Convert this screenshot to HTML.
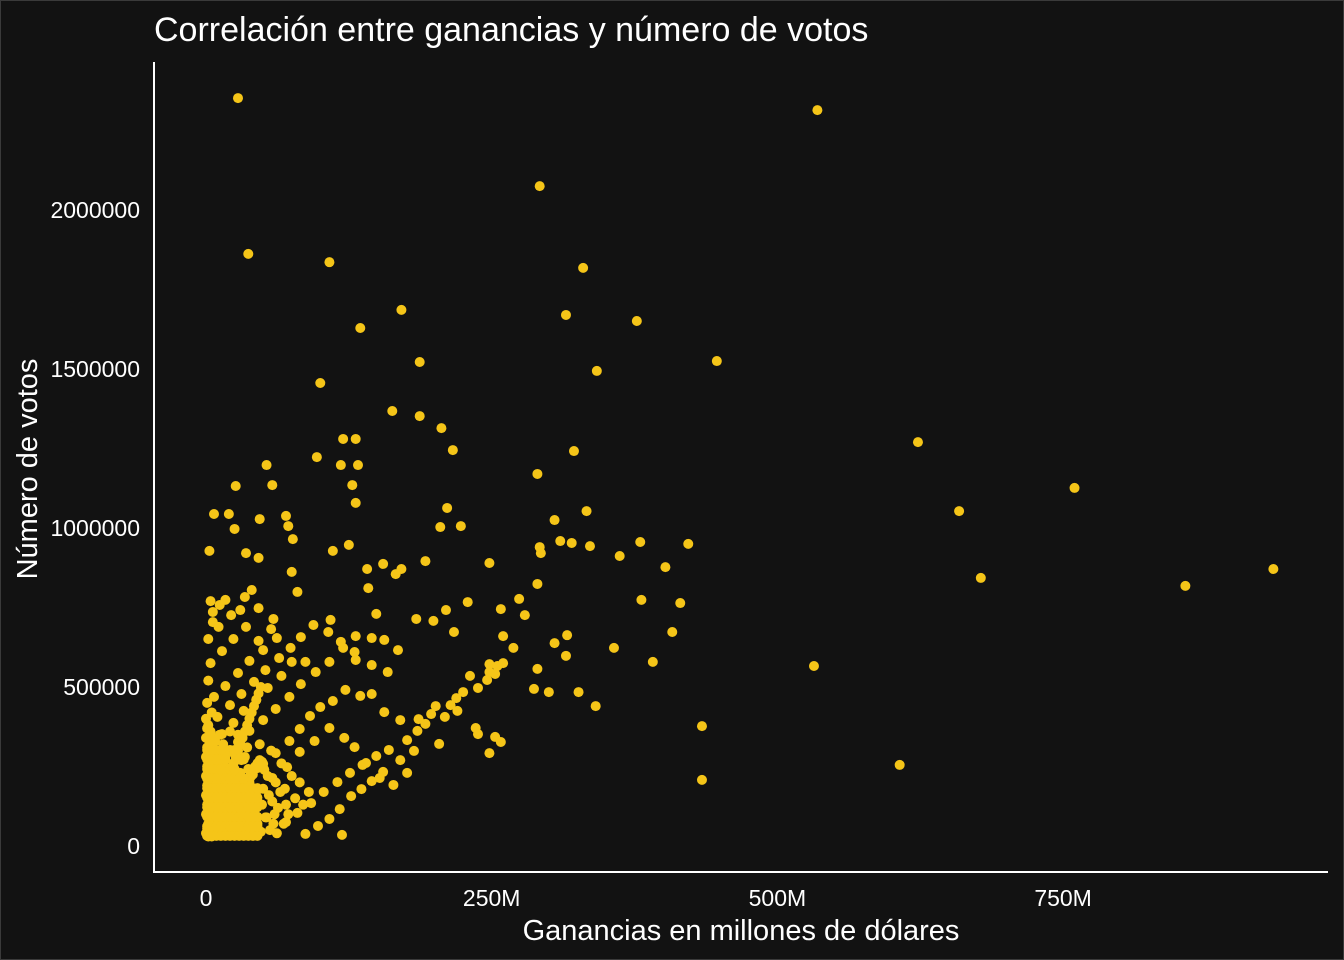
<!DOCTYPE html>
<html><head><meta charset="utf-8"><style>
html,body{margin:0;padding:0;background:#121212;}
svg{display:block;}
text{font-family:"Liberation Sans",sans-serif;}
</style></head><body>
<svg id="chart" width="1344" height="960">
<rect x="0.5" y="0.5" width="1343" height="959" fill="#121212" stroke="#3a3a3a"/>
<text x="154" y="41" font-size="34" fill="#ffffff">Correlación entre ganancias y número de votos</text>
<g id="pts"></g>
<line x1="154" y1="62" x2="154" y2="873" stroke="#ffffff" stroke-width="2"/>
<line x1="153" y1="872" x2="1328" y2="872" stroke="#ffffff" stroke-width="2"/>
<g id="ticks"></g>
<text x="741" y="940" font-size="29" fill="#ffffff" text-anchor="middle">Ganancias en millones de dólares</text>
<text transform="translate(37,469) rotate(-90)" font-size="29" fill="#ffffff" text-anchor="middle">Número de votos</text>
</svg>
<script>
const xTicks=[0,250,500,750];
const xTickLabels=["0","250M","500M","750M"];
const yTicks=[0,500000,1000000,1500000,2000000];
const yTickLabels=["0","500000","1000000","1500000","2000000"];
// gross (millions USD)
const grossM=[28,535,292,37,108,330,171,315,377,135,187,447,342,100,163,187,206,623,120,131,216,322,97,53,118,133,290,760,26,58,128,131,211,333,659,7,20,70,47,305,223,205,25,72,76,422,125,310,320,336,292,380,3,111,35,293,362,46,192,248,402,155,141,171,166,75,934,678,290,857,40,142,80,34,274,381,4,415,229,12,258,46,210,279,149,184,199,59,109,6,408,217,316,131,260,357,269,305,315,290,391,532,253,300,326,287,341,434,607,434,119,
231,238,248,260,255,248,246,225,219,209,197,192,185,176,160,149,137,126,115,103,92,80,70,253,258,248,236,238,214,220,201,186,170,156,145,135,122,111,100,91,82,73,61,50,39,29,17,204,182,170,155,145,136,127,117,108,98,87,176,164,152,140,130,121,108,95,82,71,58,45,32,22,159,145,131,120,108,96,83,73,61,50,38,28,17,168,156,145,130,118,107,94,83,74,64,52,42,31,21,10,87,75,66,54,44,33,24,14,3,62,50,38,28,17,7,57,46,35,24,14,4,22,11,2,30,17,6,
0,1,2,3,4,5,6,7,8,9,10,11,12,13,14,15,16,17,18,19,20,21,22,23,24,25,26,27,28,29,30,31,32,33,34,35,36,37,38,39,40,42,44,45,46,48,50,52,54,56,58,60,62,65,68,70,
0,0,0,0,0,0,1,1,1,1,1,1,2,2,2,2,2,2,3,3,3,3,4,4,4,4,5,5,5,5,5,6,6,6,6,7,7,7,8,8,8,9,9,9,10,10,10,11,11,11,12,12,12,13,13,13,14,14,15,15,15,16,16,17,17,18,18,18,19,20,20,21,21,22,22,23,24,24,25,26,27,28,28,29,30,31,32,33,34,35,36,37,38,40,41,43,45,47,49,51,53,55,57,59,61,63,66,69,72,75,78,82,85,90,
2,4,6,8,10,12,14,16,18,20,22,24,26,28,30,32,34,36,38,40,42,44,46,48,3,7,11,15,19,23,27,31,35,39,43,47,5,9,13,17,21,25,29,33,37,41,45,49,
1,5,9,13,17,21,25,29,33,37,41,45,1,5,9,13,17,21,25,29,33,37,41,45,1,5,9,13,17,21,25,29,33,37,41,45,1,5,9,13,17,21,25,29,33,37,41,45,1,5,9,13,17,21,25,29,33,37,41,45,1,5,9,13,17,21,25,29,33,37,41,45,1,5,9,13,17,21,25,29,33,37,41,1,5,9,13,17,21,25,29,33,1,5,9,13,17,21,25,1,5,9,13,17,21];
// votes
const votes=[2352000,2314000,2075000,1862000,1836000,1818000,1686000,1670000,1651000,1629000,1522000,1525000,1494000,1456000,1368000,1352000,1314000,1270000,1280000,1280000,1245000,1242000,1223000,1198000,1198000,1198000,1170000,1126000,1132000,1135000,1135000,1079000,1063000,1053000,1053000,1044000,1044000,1038000,1028000,1025000,1006000,1003000,997000,1006000,965000,950000,947000,959000,953000,943000,940000,956000,928000,928000,921000,921000,912000,906000,896000,890000,877000,887000,871000,871000,855000,862000,871000,843000,824000,818000,805000,811000,799000,783000,777000,774000,770000,764000,767000,758000,745000,748000,742000,726000,730000,714000,708000,714000,711000,704000,673000,673000,663000,660000,660000,623000,623000,638000,598000,557000,579000,566000,541000,484000,484000,494000,440000,377000,255000,208000,35000,
535000,497000,572000,575000,566000,547000,522000,484000,465000,406000,415000,384000,362000,333000,302000,283000,255000,230000,201000,170000,135000,104000,75000,343000,327000,292000,371000,352000,443000,425000,440000,399000,396000,421000,478000,472000,491000,456000,437000,409000,368000,330000,292000,258000,217000,176000,138000,321000,299000,270000,233000,204000,179000,157000,116000,85000,63000,38000,230000,192000,214000,261000,311000,340000,371000,330000,296000,248000,214000,176000,135000,97000,547000,569000,585000,623000,579000,547000,509000,469000,431000,396000,362000,327000,289000,616000,648000,654000,610000,642000,673000,695000,657000,623000,591000,553000,516000,478000,443000,406000,579000,579000,535000,497000,459000,425000,387000,352000,315000,654000,616000,582000,544000,503000,469000,682000,645000,689000,651000,613000,575000,726000,689000,651000,742000,774000,736000,
40000,55000,70000,35000,90000,60000,120000,45000,80000,150000,35000,100000,65000,180000,50000,130000,90000,40000,210000,75000,160000,55000,110000,250000,40000,95000,190000,70000,140000,45000,230000,105000,60000,170000,280000,50000,125000,85000,200000,40000,150000,95000,60000,260000,130000,45000,180000,90000,220000,50000,140000,100000,40000,170000,70000,130000,
100000,160000,220000,280000,340000,400000,130000,190000,250000,310000,370000,450000,30000,110000,200000,290000,380000,520000,60000,150000,240000,330000,45000,180000,270000,360000,30000,100000,210000,300000,420000,70000,160000,250000,340000,110000,200000,290000,40000,230000,330000,90000,190000,270000,60000,130000,240000,40000,170000,300000,90000,200000,350000,50000,130000,260000,100000,220000,60000,180000,320000,140000,250000,80000,200000,50000,120000,290000,180000,90000,240000,130000,360000,60000,200000,150000,80000,300000,180000,120000,230000,60000,350000,170000,90000,270000,140000,60000,200000,110000,310000,170000,60000,240000,120000,180000,70000,320000,130000,240000,90000,160000,300000,70000,200000,120000,260000,180000,100000,220000,150000,200000,130000,170000,
40000,60000,80000,100000,120000,140000,160000,180000,200000,220000,240000,260000,280000,300000,320000,340000,360000,380000,400000,420000,440000,460000,480000,500000,50000,70000,90000,110000,130000,150000,170000,190000,210000,230000,250000,270000,45000,65000,85000,105000,125000,145000,165000,185000,205000,225000,245000,265000,
32000,32000,32000,32000,32000,32000,32000,32000,32000,32000,32000,32000,62000,62000,62000,62000,62000,62000,62000,62000,62000,62000,62000,62000,92000,92000,92000,92000,92000,92000,92000,92000,92000,92000,92000,92000,122000,122000,122000,122000,122000,122000,122000,122000,122000,122000,122000,122000,152000,152000,152000,152000,152000,152000,152000,152000,152000,152000,152000,152000,182000,182000,182000,182000,182000,182000,182000,182000,182000,182000,182000,182000,212000,212000,212000,212000,212000,212000,212000,212000,212000,242000,242000,242000,242000,242000,242000,242000,242000,242000,272000,272000,272000,272000,272000,272000,272000,302000,302000,302000,302000,302000,302000];
const X0=206, XS=285.7/250, Y0=846, YS=159/500000;
const xs=v=>X0+v*XS, ys=v=>Y0-v*YS;
const NS="http://www.w3.org/2000/svg";
const g=document.getElementById('pts');
const n=Math.min(grossM.length,votes.length);
for(let i=0;i<n;i++){
  const c=document.createElementNS(NS,'circle');
  c.setAttribute('cx',xs(grossM[i]));c.setAttribute('cy',ys(votes[i]));
  c.setAttribute('r',5);c.setAttribute('fill','#f5c518');
  
  
  g.appendChild(c);
}
const t=document.getElementById('ticks');
xTicks.forEach((v,i)=>{
  const e=document.createElementNS(NS,'text');
  e.setAttribute('x',xs(v));e.setAttribute('y',906);e.setAttribute('font-size',23);
  e.setAttribute('fill','#ffffff');e.setAttribute('text-anchor','middle');
  e.textContent=xTickLabels[i];
  
  
  t.appendChild(e);
});
yTicks.forEach((v,i)=>{
  const e=document.createElementNS(NS,'text');
  e.setAttribute('x',140);e.setAttribute('y',ys(v)+8);e.setAttribute('font-size',23);
  e.setAttribute('fill','#ffffff');e.setAttribute('text-anchor','end');
  e.textContent=yTickLabels[i];
  
  
  t.appendChild(e);
});
</script>
</body></html>
